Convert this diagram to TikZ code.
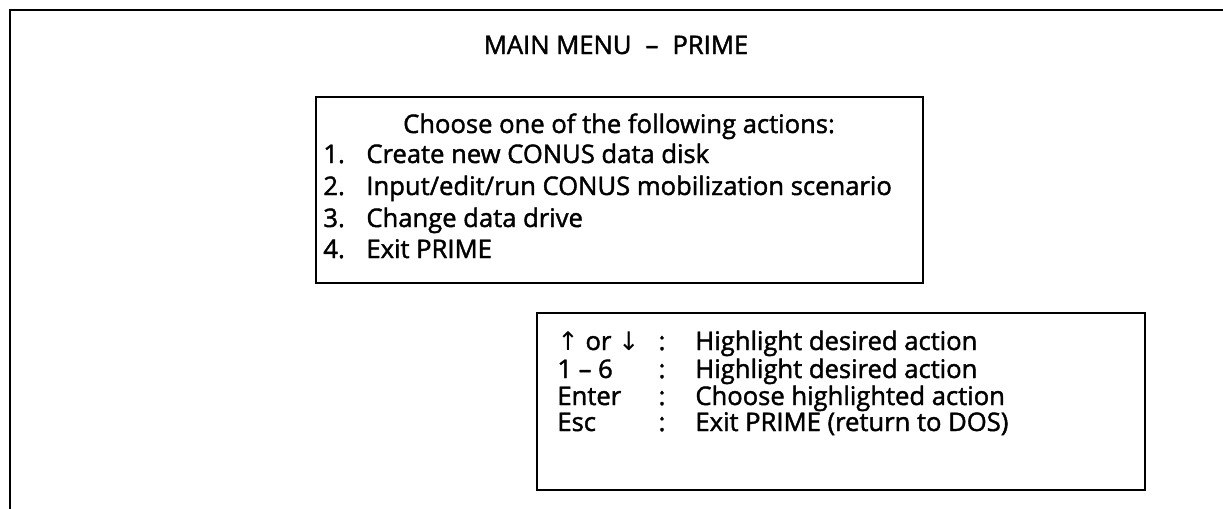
\documentclass[tikz,border=0pt]{standalone}
\usepackage{fontspec}
\setmainfont{Open Sans}
\newfontfamily\menufont{Open Sans}[Ligatures=TeX,FakeBold=1.6]
\newfontfamily\arrowfont{DejaVu Sans}

\begin{document}
\begin{tikzpicture}[x=0.5pt,y=-0.5pt,
    menu/.style={font=\menufont\fontsize{12.8}{15}\selectfont, inner sep=0pt},
    panel/.style={draw, line width=1.2pt}]
  \useasboundingbox (0,0) rectangle (1223,509);

  % Frame (cut at right and bottom)
  \draw[line width=1.2pt] (10,509) -- (10,10) -- (1223,10);

  % Title
  \node[menu, anchor=base] (title) at (616,54) {MAIN MENU\hspace{0.55em}--\hspace{0.55em}PRIME};

  % Action box
  \draw[panel] (316,97) rectangle (923,283);
  \node[menu, anchor=base] (head) at (619,133) {Choose one of the following actions:};
  \foreach \n/\t/\y in {1/{Create new CONUS data disk}/163,
                         2/{Input/edit/run CONUS mobilization scenario}/195,
                         3/{Change data drive}/227,
                         4/{Exit PRIME}/258} {
    \node[menu, anchor=base west] (num\n) at (323,\y) {\n.};
    \node[menu, anchor=base west] (act\n) at (366,\y) {\t};
  }

  % Key box
  \draw[panel] (537,313) rectangle (1145,490);
  \foreach \k/\c/\d/\y in {1/{{\arrowfont↑} or {\arrowfont↓}}/{Highlight desired action}/350,
                           2/{1 -- 6}/{Highlight desired action}/378,
                           3/{Enter}/{Choose highlighted action}/405,
                           4/{Esc}/{Exit PRIME (return to DOS)}/431} {
    \node[menu, anchor=base west] (key\k) at (557,\y) {\c};
    \node[menu, anchor=base] (col\k) at (662,\y) {:};
    \node[menu, anchor=base west] (desc\k) at (695,\y) {\d};
  }
\end{tikzpicture}
\end{document}
